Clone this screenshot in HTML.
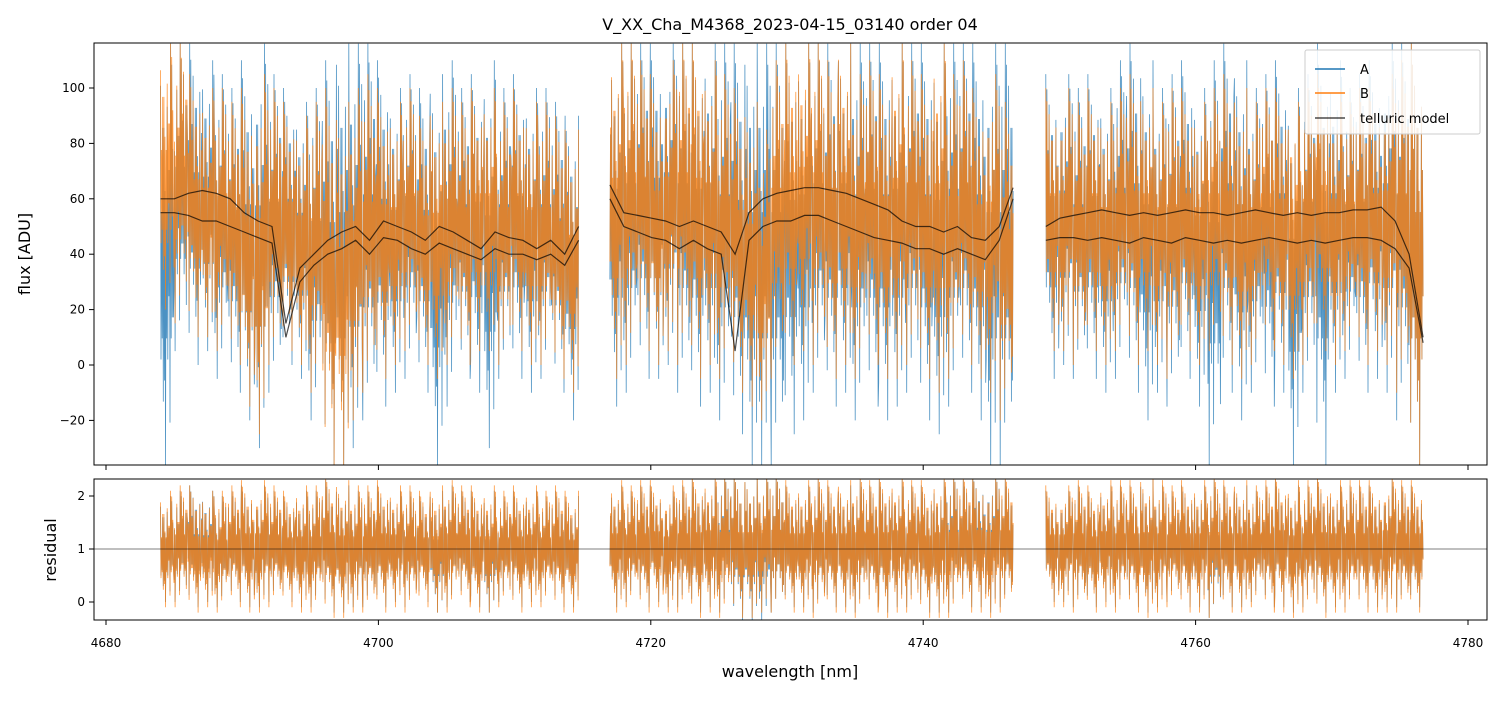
<!DOCTYPE html>
<html><head><meta charset="utf-8"><style>
body{margin:0;background:#fff;font-family:"Liberation Sans","DejaVu Sans",sans-serif}
svg text{font-family:"DejaVu Sans","Liberation Sans",sans-serif}
</style></head><body>
<svg id="chart" width="1503" height="696" xmlns="http://www.w3.org/2000/svg">
<rect width="1503" height="696" fill="#fff"/>
<text x="790" y="30" font-size="16" text-anchor="middle">V_XX_Cha_M4368_2023-04-15_03140  order 04</text>
<defs>
<clipPath id="ctop"><rect x="94" y="43" width="1393" height="422"/></clipPath>
<clipPath id="cbot"><rect x="94" y="479" width="1393" height="141"/></clipPath>
</defs>
<g id="gtop" clip-path="url(#ctop)"></g>
<g id="gbot" clip-path="url(#cbot)"></g>
<g id="axes"></g>
<text transform="translate(30,254) rotate(-90)" font-size="16" text-anchor="middle">flux [ADU]</text>
<text transform="translate(56,550) rotate(-90)" font-size="16" text-anchor="middle">residual</text>
<text x="790" y="677" font-size="16" text-anchor="middle">wavelength [nm]</text>
<g>
<rect x="1305" y="50" width="175" height="84" fill="#fff" fill-opacity="0.85" stroke="#ccc" rx="2"/>
<line x1="1315" y1="69" x2="1345" y2="69" stroke="#1f77b4" stroke-width="1.5"/>
<text x="1360" y="74" font-size="13">A</text>
<line x1="1315" y1="93" x2="1345" y2="93" stroke="#ff7f0e" stroke-width="1.5"/>
<text x="1360" y="98" font-size="13">B</text>
<line x1="1315" y1="118" x2="1345" y2="118" stroke="#000" stroke-opacity="0.7" stroke-width="1.5"/>
<text x="1360" y="123" font-size="13">telluric model</text>
</g>
</svg>
<script>
const segStarts=[4684,4717,4749];
const segEnds=[4714.7,4746.6,4776.7];
const bHi=[[116,116,105,100,100,95,100,105,100,95,90,95,100,95,100,105,100,95,100,90,95,100,95,100,100,95,100,95,95,90,85],
[116,116,110,105,110,116,116,110,105,100,95,85,110,116,116,116,110,116,105,110,105,116,110,105,116,105,110,100,105,95],
[100,100,95,100,95,100,105,100,95,100,100,95,100,105,100,95,100,100,95,100,105,100,95,100,100,105,110,116]];
const bLo=[[20,15,10,10,5,0,-15,-25,0,5,0,-10,-36,-36,-20,-10,-5,0,5,0,-5,0,0,5,5,0,5,0,0,-5,-10],
[-5,0,5,0,5,0,-5,0,-5,-10,-15,-20,-5,0,5,0,-5,0,-5,0,-5,-5,0,-5,-10,-5,0,-5,-10,-20],
[5,5,0,5,0,5,0,5,0,-5,5,0,5,0,-5,0,5,0,-5,0,5,0,5,0,5,0,-10,-36]];
const aHi=[[116,116,116,110,105,100,110,116,105,100,95,100,110,116,116,116,110,100,105,100,105,110,100,105,110,100,105,100,100,95,90],
[116,116,116,116,116,116,116,116,116,116,116,116,116,116,116,116,116,116,116,116,116,116,116,116,116,116,116,116,116,116],
[105,105,100,105,100,110,116,110,100,105,110,100,110,116,110,100,105,110,100,105,116,110,100,105,110,116,116,116]];
const aLo=[[-36,5,0,5,-5,-10,-20,-30,-10,0,-5,-20,-36,-36,-30,-20,-15,-10,-5,-10,-36,-15,-5,-10,-30,-5,-5,-10,-5,-10,-20],
[-15,-10,-5,-5,0,-10,-15,-10,-20,-25,-36,-36,-36,-25,-20,-10,-15,-10,-20,-15,-20,-15,-10,-20,-25,-15,-10,-20,-36,-36],
[-5,0,-5,-5,-10,-5,-10,-20,-10,-15,-5,-15,-36,-10,-20,-10,-15,-10,-36,-10,-36,-10,-5,-10,-5,-10,-20,-36]];
const modelA=[[60,60,62,63,62,60,55,52,50,15,35,40,45,48,50,45,52,50,48,45,50,48,45,42,48,46,45,42,45,40,50],
[65,55,54,53,52,50,52,50,48,40,55,60,62,63,64,64,63,62,60,58,56,52,50,50,48,50,46,45,50,64],
[50,53,54,55,56,55,54,55,54,55,56,55,55,54,55,56,55,54,55,54,55,55,56,56,57,52,40,10]];
const modelB=[[55,55,54,52,52,50,48,46,44,10,30,36,40,42,45,40,46,45,42,40,44,42,40,38,42,40,40,38,40,36,45],
[60,50,48,46,45,42,45,42,40,5,45,50,52,52,54,54,52,50,48,46,45,44,42,42,40,42,40,38,45,60],
[45,46,46,45,46,45,44,46,45,44,46,45,44,45,44,45,46,45,44,45,44,45,46,46,45,42,35,8]];
const rAHi=[[2.0,2.1,2.2,2.1,2.0,2.1,2.2,2.2,2.1,2.0,2.1,2.1,2.3,2.2,2.1,2.1,2.2,2.1,2.1,2.0,2.1,2.2,2.1,2.1,2.1,2.0,2.1,2.1,2.0,2.1,2.0],
[2.2,2.1,2.2,2.2,2.1,2.2,2.3,2.3,2.4,2.4,2.4,2.4,2.4,2.2,2.2,2.3,2.2,2.2,2.3,2.2,2.3,2.3,2.2,2.2,2.3,2.4,2.3,2.4,2.4,2.3],
[2.1,2.1,2.2,2.1,2.2,2.2,2.2,2.3,2.2,2.1,2.2,2.2,2.3,2.2,2.2,2.1,2.2,2.3,2.2,2.2,2.3,2.2,2.2,2.2,2.2,2.3,2.2,2.2]];
const rALo=[[0.0,0.0,-0.1,0.0,-0.1,0.0,-0.1,-0.1,0.0,0.0,-0.1,-0.1,-0.2,-0.2,-0.1,-0.1,-0.1,0.0,-0.1,0.0,-0.2,-0.1,0.0,-0.1,-0.2,0.0,-0.1,0.0,0.0,-0.1,-0.1],
[-0.1,0.0,-0.1,0.0,-0.1,-0.1,-0.2,-0.1,-0.2,-0.35,-0.35,-0.35,-0.2,-0.1,-0.1,-0.2,-0.1,-0.1,-0.2,-0.1,-0.2,-0.1,-0.1,-0.2,-0.2,-0.2,-0.1,-0.1,-0.2,-0.1],
[0.0,0.0,-0.1,-0.1,0.0,-0.1,-0.1,-0.2,-0.1,0.0,-0.1,-0.1,-0.3,-0.1,-0.1,0.0,-0.1,-0.1,-0.2,-0.1,-0.2,-0.1,-0.1,-0.1,-0.1,-0.1,-0.1,-0.1]];
const rBHi=[[2.1,2.2,2.2,2.1,2.1,2.2,2.3,2.3,2.2,2.1,2.2,2.2,2.4,2.3,2.2,2.2,2.3,2.2,2.2,2.1,2.2,2.3,2.2,2.2,2.2,2.1,2.2,2.2,2.1,2.2,2.1],
[2.3,2.2,2.3,2.3,2.2,2.3,2.4,2.4,2.4,2.4,2.4,2.4,2.4,2.3,2.3,2.4,2.3,2.3,2.4,2.3,2.4,2.4,2.3,2.3,2.4,2.4,2.4,2.4,2.4,2.4],
[2.2,2.2,2.3,2.2,2.3,2.3,2.3,2.4,2.3,2.2,2.3,2.3,2.4,2.3,2.3,2.2,2.3,2.4,2.3,2.3,2.4,2.3,2.3,2.3,2.3,2.4,2.3,2.3]];
const rBLo=[[-0.1,-0.1,-0.2,-0.1,-0.2,-0.1,-0.2,-0.2,-0.1,-0.1,-0.2,-0.2,-0.3,-0.3,-0.2,-0.2,-0.2,-0.1,-0.2,-0.1,-0.2,-0.2,-0.1,-0.2,-0.2,-0.1,-0.2,-0.1,-0.1,-0.2,-0.2],
[-0.2,-0.1,-0.2,-0.1,-0.2,-0.2,-0.3,-0.2,-0.3,-0.3,-0.3,-0.2,-0.2,-0.2,-0.2,-0.3,-0.2,-0.2,-0.3,-0.2,-0.3,-0.2,-0.2,-0.3,-0.3,-0.3,-0.2,-0.2,-0.3,-0.2],
[-0.1,-0.1,-0.2,-0.2,-0.1,-0.2,-0.2,-0.3,-0.2,-0.1,-0.2,-0.2,-0.3,-0.2,-0.2,-0.1,-0.2,-0.2,-0.3,-0.2,-0.3,-0.2,-0.2,-0.2,-0.2,-0.2,-0.2,-0.2]];
const xTicks=[4680,4700,4720,4740,4760,4780];
const yTicksTop=[-20,0,20,40,60,80,100];
const yTicksBot=[0,1,2];

const X=w=>106+(w-4680)*13.62;
const YT=v=>365-v*2.77;
const YB=v=>549-(v-1)*53;
const NS="http://www.w3.org/2000/svg";
const pat=[0.9,0.2,0.7,0.35,0.8,0.3,1,0.25,0.65,0.4,0.75,0.15,0.85,0.3,0.6,0.0,0.7,0.35,0.8,0.25,0.95,0.3,0.6,0.1];
const PL=pat.length;
function env(g,hi,lo,Y,color,name,w,op){
  let d="";
  for(let s=0;s<3;s++){
    const n=hi[s].length;
    const steps=n*PL;
    for(let k=0;k<=steps;k++){
      const wl=segStarts[s]+(segEnds[s]-segStarts[s])*k/steps;
      const i=Math.min(n-1,Math.floor(k/PL));
      const f=pat[(k*7+s*3+i)%PL];
      const v=lo[s][i]+(hi[s][i]-lo[s][i])*f;
      d+=(k?"L":"M")+X(wl).toFixed(1)+" "+Y(v).toFixed(1);
    }
  }
  const p=document.createElementNS(NS,"path");
  p.setAttribute("d",d);p.setAttribute("fill","none");p.setAttribute("stroke",color);
  p.setAttribute("stroke-width",w);p.setAttribute("stroke-opacity",op);
  
  
  g.appendChild(p);
}
function line(g,vals,Y,name){
  let d="";
  for(let s=0;s<3;s++){
    const n=vals[s].length;
    for(let i=0;i<n;i++){
      const wl=segStarts[s]+(segEnds[s]-segStarts[s])*i/(n-1);
      d+=(i?"L":"M")+X(wl).toFixed(1)+" "+Y(vals[s][i]).toFixed(1);
    }
  }
  const p=document.createElementNS(NS,"path");
  p.setAttribute("d",d);p.setAttribute("fill","none");p.setAttribute("stroke","#000");
  p.setAttribute("stroke-width","1.2");p.setAttribute("stroke-opacity","0.7");
  
  
  g.appendChild(p);
}
const gTop=document.getElementById("gtop"),gBot=document.getElementById("gbot"),ax=document.getElementById("axes");
env(gTop,aHi,aLo,YT,"#1f77b4","series-a-flux",0.8,0.8);
env(gTop,bHi,bLo,YT,"#ff7f0e","series-b-flux",0.8,0.8);
line(gTop,modelA,YT,"telluric-model-a");
line(gTop,modelB,YT,"telluric-model-b");
env(gBot,rAHi,rALo,YB,"#1f77b4","series-a-residual",0.8,0.8);
env(gBot,rBHi,rBLo,YB,"#ff7f0e","series-b-residual",0.8,0.8);
const ref=document.createElementNS(NS,"line");
ref.setAttribute("x1",94);ref.setAttribute("x2",1487);ref.setAttribute("y1",YB(1));ref.setAttribute("y2",YB(1));
ref.setAttribute("stroke","#000");ref.setAttribute("stroke-width","0.6");


gBot.appendChild(ref);
let h="";
h+='<rect x="94" y="43" width="1393" height="422" fill="none" stroke="#000" stroke-width="1"/>';
h+='<rect x="94" y="479" width="1393" height="141" fill="none" stroke="#000" stroke-width="1"/>';
xTicks.forEach(t=>{const x=X(t);
 h+=`<line x1="${x}" x2="${x}" y1="465" y2="470" stroke="#000"/>`;
 h+=`<line x1="${x}" x2="${x}" y1="620" y2="625" stroke="#000"/>`;
 h+=`<text x="${x}" y="647" font-size="12" text-anchor="middle">${t}</text>`;});
yTicksTop.forEach(t=>{const y=YT(t);
 h+=`<line x1="89" x2="94" y1="${y}" y2="${y}" stroke="#000"/>`;
 h+=`<text x="85" y="${y+4}" font-size="12" text-anchor="end">${t<0?"\u2212"+(-t):t}</text>`;});
yTicksBot.forEach(t=>{const y=YB(t);
 h+=`<line x1="89" x2="94" y1="${y}" y2="${y}" stroke="#000"/>`;
 h+=`<text x="85" y="${y+4}" font-size="12" text-anchor="end">${t}</text>`;});
ax.innerHTML=h;


</script>
</body></html>
